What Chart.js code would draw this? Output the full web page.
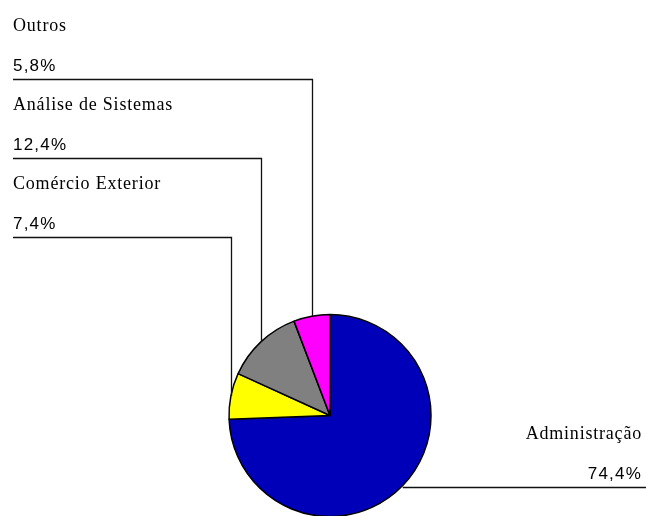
<!DOCTYPE html>
<html>
<head>
<meta charset="utf-8">
<script src="https://cdn.jsdelivr.net/npm/chart.js@4/dist/chart.umd.min.js"></script>
<style>
  html, body { margin: 0; padding: 0; background: #fff; }
  canvas { display: block; }
</style>
</head>
<body>
<canvas id="grafico" width="646" height="516"></canvas>
<script>
const categorias = ["Administração", "Comércio Exterior", "Análise de Sistemas", "Outros"];
const percentuais = [74.4, 7.4, 12.4, 5.8];
const cores = ["#0000b8", "#ffff00", "#808080", "#ff00ff"];

const fmt = v => v.toFixed(1).replace(".", ",") + "%";

// linhas de chamada e rótulos: fatias da esquerda sobem até uma "prateleira",
// as da direita saem na horizontal
const rotulos = {
  id: "rotulos",
  afterDatasetsDraw(chart) {
    const ctx = chart.ctx;
    const arcs = chart.getDatasetMeta(0).data;
    const pontos = arcs.map((arc, i) => {
      const p = arc.getProps(["x", "y", "startAngle", "endAngle", "outerRadius"], true);
      const m = (p.startAngle + p.endAngle) / 2;
      return {
        i, m,
        x: p.x + Math.cos(m) * p.outerRadius,
        y: p.y + Math.sin(m) * p.outerRadius,
        esquerda: Math.cos(m) < 0
      };
    });
    const esq = pontos.filter(p => p.esquerda).sort((a, b) => b.m - a.m);
    const dir = pontos.filter(p => !p.esquerda);

    ctx.save();
    ctx.strokeStyle = "#111";
    ctx.lineWidth = 1.3;
    ctx.fillStyle = "#000";

    const texto = (p, yLinha, xTexto, align) => {
      ctx.textAlign = align;
      ctx.textBaseline = "alphabetic";
      ctx.font = '18px "Liberation Serif"';
      ctx.letterSpacing = "0.8px";
      ctx.fillText(categorias[p.i], xTexto, yLinha - 49);
      ctx.font = '17px "Liberation Sans"';
      ctx.letterSpacing = "1.2px";
      ctx.fillText(fmt(percentuais[p.i]), xTexto, yLinha - 9);
    };

    esq.forEach((p, k) => {
      const yLinha = Math.round(79 + k * 79) + 0.5;
      const x = Math.round(p.x) + 0.5;
      ctx.beginPath();
      ctx.moveTo(x, p.y);
      ctx.lineTo(x, yLinha);
      ctx.lineTo(13, yLinha);
      ctx.stroke();
      texto(p, yLinha, 13, "left");
    });

    dir.forEach(p => {
      const yLinha = Math.round(p.y) + 1.5;
      ctx.beginPath();
      ctx.moveTo(p.x, yLinha);
      ctx.lineTo(646, yLinha);
      ctx.stroke();
      texto(p, yLinha, 642, "right");
    });
    ctx.restore();
  }
};

new Chart(document.getElementById("grafico"), {
  type: "pie",
  data: {
    labels: categorias,
    datasets: [{
      data: percentuais,
      backgroundColor: cores,
      borderColor: "#000",
      borderWidth: 1.5,
      radius: 101,
      clip: false
    }]
  },
  options: {
    responsive: false,
    animation: false,
    layout: { padding: { top: 315, left: 229, right: 215, bottom: 0 } },
    plugins: {
      legend: { display: false },
      tooltip: { enabled: false }
    }
  },
  plugins: [rotulos]
});
</script>
</body>
</html>
